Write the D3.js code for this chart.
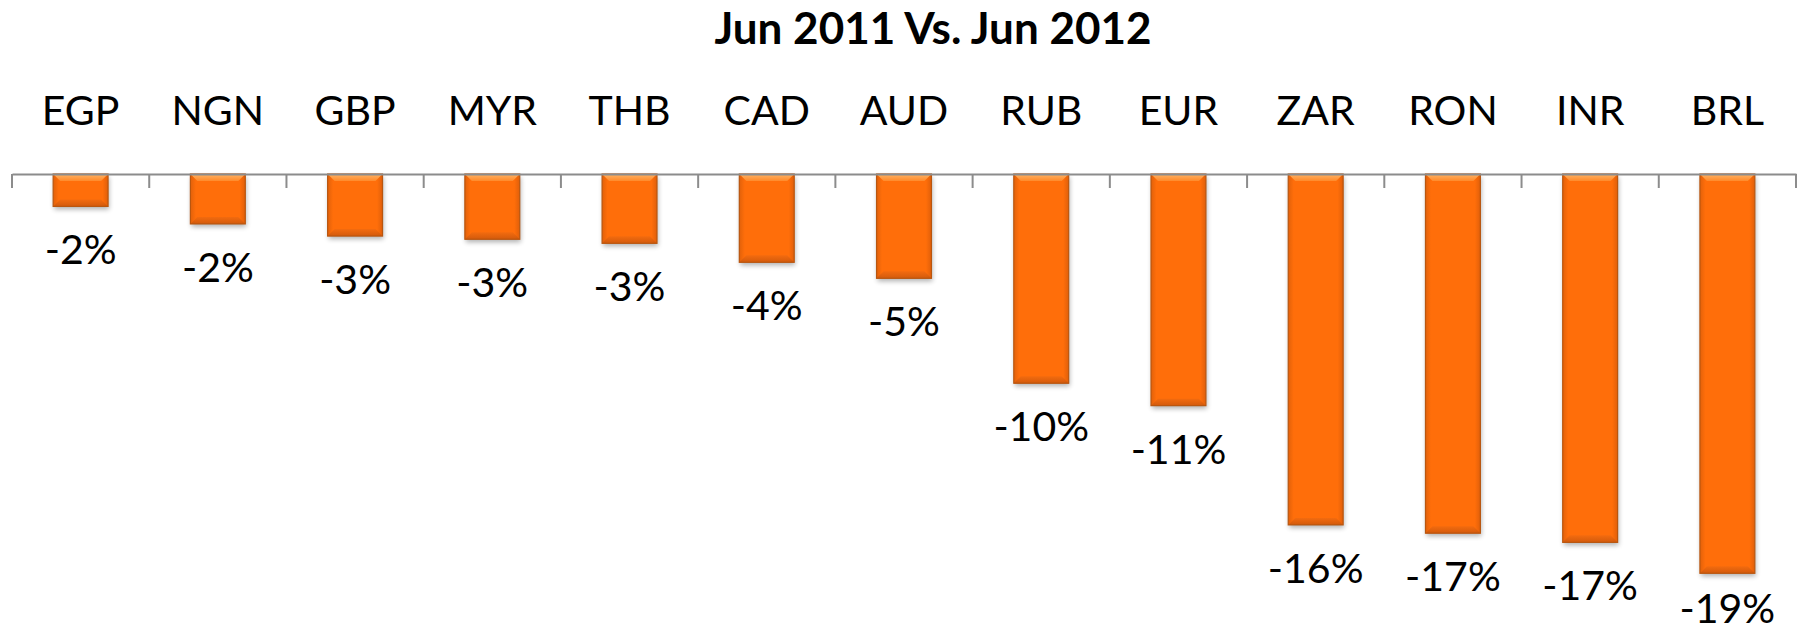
<!DOCTYPE html>
<html>
<head>
<meta charset="utf-8">
<script src="https://cdn.jsdelivr.net/npm/d3@7"></script>
<style>
  html, body { margin: 0; padding: 0; background: #ffffff; }
  svg { display: block; }
</style>
</head>
<body>
<svg id="chart" width="1802" height="632"></svg>
<script>
// ---- data ----
const title = "Jun 2011 Vs. Jun 2012";
const categories = ["EGP", "NGN", "GBP", "MYR", "THB", "CAD", "AUD", "RUB", "EUR", "ZAR", "RON", "INR", "BRL"];
const values = [-0.0152, -0.0234, -0.0291, -0.0306, -0.0325, -0.0414, -0.0489, -0.0981, -0.1086, -0.1645, -0.1684, -0.1727, -0.1872];

// ---- layout ----
const W = 1802, H = 632;
const axisY = 174;
const svg = d3.select("#chart");
const fontFam = "Lato, 'Open Sans', sans-serif";

const x = d3.scaleBand().domain(categories).range([12, 1796]).paddingInner(0).paddingOuter(0);
const y = d3.scaleLinear().domain([0, -0.2]).range([axisY, axisY + 0.2 * 2133]);
const barW = x.bandwidth() * 0.4;
const locale = d3.formatLocale({decimal: ".", thousands: ",", grouping: [3], currency: ["$", ""], minus: "-"});
const fmt = locale.format(".0%");

const defs = svg.append("defs");
const side = defs.append("linearGradient").attr("id", "sideGrad").attr("x1", "0").attr("x2", "1").attr("y1", "0").attr("y2", "0");
side.append("stop").attr("offset", "0").attr("stop-color", "#e2610a");
side.append("stop").attr("offset", "0.1").attr("stop-color", "#ff6e0a");
side.append("stop").attr("offset", "0.9").attr("stop-color", "#ff6e0a");
side.append("stop").attr("offset", "1").attr("stop-color", "#e05f0a");
const topG = defs.append("linearGradient").attr("id", "topGrad").attr("x1", "0").attr("x2", "0").attr("y1", "0").attr("y2", "1");
topG.append("stop").attr("offset", "0").attr("stop-color", "#ffb366");
topG.append("stop").attr("offset", "1").attr("stop-color", "#ff8a2a");
const botG = defs.append("linearGradient").attr("id", "botGrad").attr("x1", "0").attr("x2", "0").attr("y1", "0").attr("y2", "1");
botG.append("stop").attr("offset", "0").attr("stop-color", "#f06a10");
botG.append("stop").attr("offset", "1").attr("stop-color", "#c8550c");
const blur = defs.append("filter").attr("id", "shadow").attr("x", "-20%").attr("y", "-20%").attr("width", "140%").attr("height", "140%");
blur.append("feGaussianBlur").attr("stdDeviation", 2.5);

// ---- title ----
svg.append("text")
  .attr("x", 933).attr("y", 44)
  .attr("text-anchor", "middle")
  .attr("font-family", fontFam).attr("font-weight", "bold").attr("font-size", 44)
  .attr("fill", "#000").text(title);

// ---- category labels ----
svg.append("g").selectAll("text").data(categories).join("text")
  .attr("x", d => x(d) + x.bandwidth() / 2)
  .attr("y", 125)
  .attr("text-anchor", "middle")
  .attr("font-family", fontFam).attr("font-size", 41)
  .attr("fill", "#000").text(d => d);

// ---- bars ----
const b = 7;
const bars = svg.append("g").selectAll("g").data(categories.map((c, i) => ({c, v: values[i]}))).join("g");
bars.each(function(d) {
  const g = d3.select(this);
  const x0 = x(d.c) + (x.bandwidth() - barW) / 2, x1 = x0 + barW;
  const y0 = y(0), y1 = y(d.v);
  g.append("rect").attr("x", x0 + 1).attr("y", y0 + 3).attr("width", barW).attr("height", y1 - y0)
    .attr("fill", "#000").attr("opacity", 0.3).attr("filter", "url(#shadow)");
  g.append("rect").attr("x", x0).attr("y", y0).attr("width", barW).attr("height", y1 - y0)
    .attr("fill", "url(#sideGrad)");
  g.append("polygon").attr("points", [[x0, y0], [x1, y0], [x1 - b, y0 + b], [x0 + b, y0 + b]].join(" "))
    .attr("fill", "url(#topGrad)");
  g.append("polygon").attr("points", [[x0, y1], [x1, y1], [x1 - b, y1 - b], [x0 + b, y1 - b]].join(" "))
    .attr("fill", "url(#botGrad)").attr("opacity", 0.8);
  g.append("rect").attr("x", x0).attr("y", y0).attr("width", barW).attr("height", y1 - y0)
    .attr("fill", "none").attr("stroke", "#b9560f").attr("stroke-width", 1.2);
});

// ---- axis ----
const axis = d3.axisBottom(x).tickValues([]).tickSize(0).tickSizeOuter(0);
const ax = svg.append("g").attr("transform", `translate(0,${axisY})`).call(axis);
ax.select(".domain").attr("stroke", "#8c8c8c").attr("stroke-width", 2);
const bounds = categories.map(c => x(c)).concat([x.range()[1]]);
ax.selectAll("line.tk").data(bounds).join("line").attr("class", "tk")
  .attr("x1", d => d).attr("x2", d => d).attr("y1", 0).attr("y2", 14)
  .attr("stroke", "#8c8c8c").attr("stroke-width", 2);

// ---- data labels ----
svg.append("g").selectAll("text").data(categories.map((c, i) => ({c, v: values[i]}))).join("text")
  .attr("x", d => x(d.c) + x.bandwidth() / 2)
  .attr("y", d => Math.min(y(d.v) + 58, H - 9))
  .attr("text-anchor", "middle")
  .attr("font-family", fontFam).attr("font-size", 41)
  .attr("fill", "#000").text(d => fmt(d.v));
</script>
</body>
</html>
